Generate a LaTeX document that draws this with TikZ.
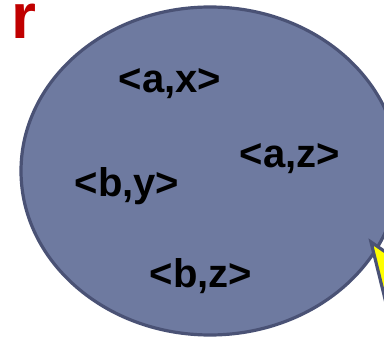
\documentclass[tikz,border=0pt]{standalone}
\usepackage{fontspec}
\usetikzlibrary{shapes.geometric}
\setmainfont{Liberation Sans}
\definecolor{setfill}{HTML}{6E7AA0}
\definecolor{setline}{HTML}{4A5275}
\definecolor{relred}{HTML}{C00000}
\definecolor{callyellow}{HTML}{FFFF00}
\begin{document}
\begin{tikzpicture}[x=1pt,y=-1pt,
  pair/.style={font=\fontsize{40}{40}\selectfont\bfseries, text=black, anchor=base, inner sep=0pt},
  setshape/.style={fill=setfill, draw=setline, line width=3.2pt}]
\useasboundingbox (0,0) rectangle (384,337);
\clip (0,0) rectangle (384,337);
\node[setshape, ellipse, minimum width=378pt, minimum height=328pt, inner sep=0pt] (set) at (210,171) {};
\coordinate (tip) at (371,242);
\coordinate (ctop) at (400,262);
\coordinate (cbot) at (400,360);
\draw[fill=callyellow, draw=setline, line width=3.2pt, line join=miter] (ctop) -- (tip) -- (cbot);
\node[font=\fontsize{64}{64}\selectfont\bfseries, text=relred, anchor=base, inner sep=0pt, text height=34pt, text depth=0pt] (r) at (24,39) {r};
\node[pair] (ax) at (170,93) {<a,x>};
\node[pair] (az) at (290,168) {<a,z>};
\node[pair] (by) at (127,197) {<b,y>};
\node[pair] (bz) at (201,288) {<b,z>};
\end{tikzpicture}
\end{document}
